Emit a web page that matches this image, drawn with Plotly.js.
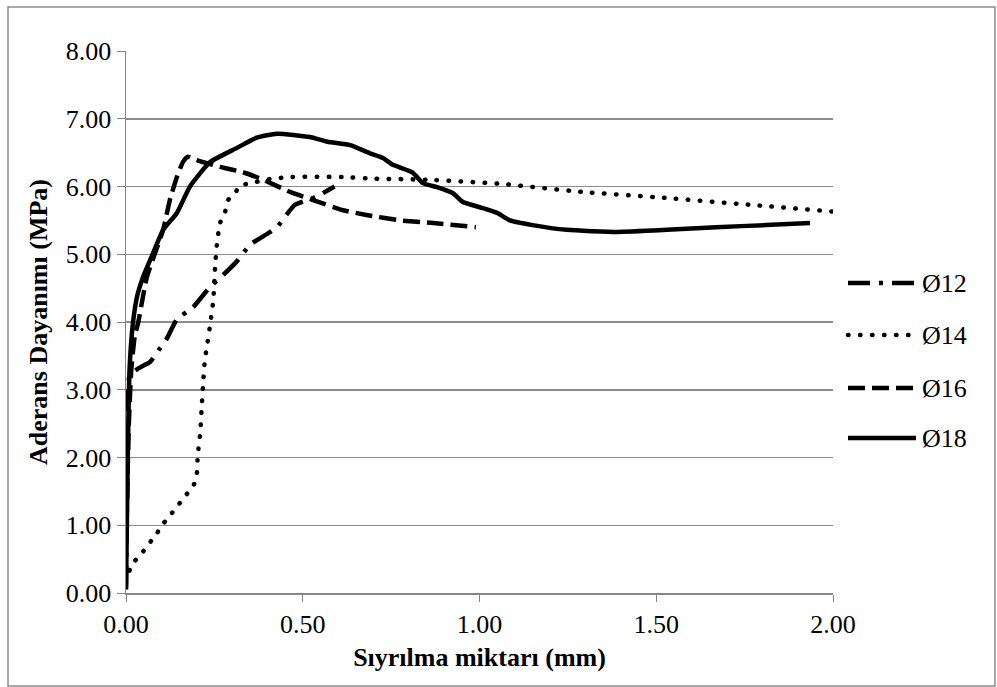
<!DOCTYPE html>
<html>
<head>
<meta charset="utf-8">
<script src="https://cdn.plot.ly/plotly-3.0.1.min.js"></script>
<style>
html,body{margin:0;padding:0;background:#fff;}
#chart{width:997px;height:687px;}
path[style*="11.5px"]{stroke-linecap:round;}
</style>
</head>
<body>
<div id="chart"></div>
<script>
// Ø12
const x12 = [0, 0.003, 0.005, 0.011, 0.04, 0.068, 0.096, 0.116, 0.144, 0.19, 0.238, 0.266, 0.311, 0.351, 0.402, 0.427, 0.478, 0.535, 0.59];
const y12 = [0.08, 1.5, 3.0, 3.22, 3.33, 3.41, 3.61, 3.76, 4.04, 4.22, 4.52, 4.65, 4.88, 5.14, 5.31, 5.40, 5.73, 5.84, 6.0];
// Ø14
const x14 = [0.01, 0.02, 0.045, 0.087, 0.105, 0.13, 0.172, 0.192, 0.2, 0.203, 0.21, 0.214, 0.218, 0.223, 0.228, 0.238, 0.247, 0.252, 0.257, 0.266, 0.28, 0.289, 0.308, 0.323, 0.345, 0.407, 0.47, 0.614, 0.68, 0.85, 1.058, 1.29, 1.53, 1.765, 2.0];
const y14 = [0.33, 0.44, 0.59, 0.88, 1.02, 1.18, 1.46, 1.60, 1.74, 2.04, 2.36, 2.73, 3.07, 3.44, 3.61, 3.96, 4.32, 4.81, 5.14, 5.46, 5.62, 5.80, 5.90, 6.02, 6.04, 6.11, 6.14, 6.14, 6.12, 6.10, 6.04, 5.92, 5.83, 5.73, 5.63];
// Ø16
const x16 = [0.003, 0.008, 0.015, 0.025, 0.034, 0.059, 0.105, 0.124, 0.144, 0.161, 0.175, 0.2, 0.266, 0.331, 0.388, 0.464, 0.529, 0.614, 0.68, 0.775, 0.87, 0.99];
const y16 = [1.4, 2.5, 3.3, 3.8, 3.98, 4.66, 5.36, 5.80, 6.14, 6.36, 6.44, 6.39, 6.29, 6.21, 6.10, 5.92, 5.80, 5.65, 5.58, 5.50, 5.46, 5.40];
// Ø18
const x18 = [0, 0.005, 0.01, 0.02, 0.031, 0.048, 0.077, 0.105, 0.144, 0.181, 0.238, 0.314, 0.37, 0.427, 0.52, 0.57, 0.634, 0.69, 0.727, 0.755, 0.81, 0.84, 0.88, 0.925, 0.953, 1.01, 1.05, 1.086, 1.15, 1.247, 1.39, 1.53, 1.67, 1.81, 1.935];
const y18 = [0.05, 2.0, 3.3, 4.0, 4.37, 4.66, 5.02, 5.36, 5.61, 6.00, 6.36, 6.57, 6.72, 6.78, 6.73, 6.66, 6.61, 6.49, 6.42, 6.32, 6.21, 6.05, 5.99, 5.90, 5.77, 5.68, 5.61, 5.50, 5.43, 5.36, 5.33, 5.36, 5.40, 5.43, 5.46];
const names = ['Ø12', 'Ø14', 'Ø16', 'Ø18'];
const xTicks = [0, 0.5, 1, 1.5, 2];
const yTicks = [0, 1, 2, 3, 4, 5, 6, 7, 8];

const fontFam = 'Liberation Serif';
const FS = 26;
const styles = [
  {color: '#000', width: 4.5, dash: '22px,9px,4px,9px'},
  {color: '#000', width: 4.5, dash: '0.5px,11.5px'},
  {color: '#000', width: 4.5, dash: '17px,7px'},
  {color: '#000', width: 4.5, dash: 'solid'}
];
const xs = [x12, x14, x16, x18], ys = [y12, y14, y16, y18];
const traces = names.map((n, i) => ({type: 'scatter', mode: 'lines', x: xs[i], y: ys[i], name: n,
  line: Object.assign({shape: 'spline', smoothing: 0.5}, styles[i])}));

// custom legend (placement in pixels converted to paper coords)
const L = 126, W = 707, B = 593, H = 542;
const px = v => (v - L) / W, py = v => (B - v) / H;
const legY = [283, 335, 388, 438];
const shapes = [
  {type: 'rect', xref: 'paper', yref: 'paper', x0: px(8), x1: px(995), y0: py(686), y1: py(7),
   line: {color: '#8c8c8c', width: 1.5}, layer: 'below'}
];
const annotations = [];
names.forEach((n, i) => {
  shapes.push({type: 'line', xref: 'paper', yref: 'paper', x0: px(848), x1: px(916), y0: py(legY[i]), y1: py(legY[i]),
               line: {color: '#000', width: 4.5, dash: styles[i].dash}});
  annotations.push({xref: 'paper', yref: 'paper', x: px(920), y: py(legY[i]), xanchor: 'left', yanchor: 'middle',
                    text: n, showarrow: false, font: {family: fontFam, size: FS, color: '#000'}});
});

const layout = {
  width: 997, height: 687,
  margin: {l: 126, r: 164, t: 51, b: 94},
  paper_bgcolor: '#fff', plot_bgcolor: '#fff',
  font: {family: fontFam, size: FS, color: '#000'},
  showlegend: false,
  xaxis: {
    range: [0, 2], tickvals: xTicks, tickformat: '.2f', ticks: 'outside', ticklen: 7, tickcolor: '#868686',
    showline: true, linecolor: '#868686', linewidth: 1.5, showgrid: false, zeroline: false,
    tickfont: {family: fontFam, size: FS},
    title: {text: '<b>Sıyrılma miktarı (mm)</b>', font: {family: fontFam, size: FS}, standoff: 10}
  },
  yaxis: {
    range: [0, 8], tickvals: yTicks, tickformat: '.2f', ticks: 'outside', ticklen: 8, tickcolor: '#868686',
    showline: true, linecolor: '#868686', linewidth: 1.5, showgrid: true, gridcolor: '#8c8c8c', gridwidth: 1.5,
    zeroline: false, tickfont: {family: fontFam, size: FS},
    title: {text: '<b>Aderans Dayanımı (MPa)</b>', font: {family: fontFam, size: FS}, standoff: 10}
  },
  shapes: shapes,
  annotations: annotations
};
Plotly.newPlot('chart', traces, layout, {displayModeBar: false, staticPlot: true});
</script>
</body>
</html>
